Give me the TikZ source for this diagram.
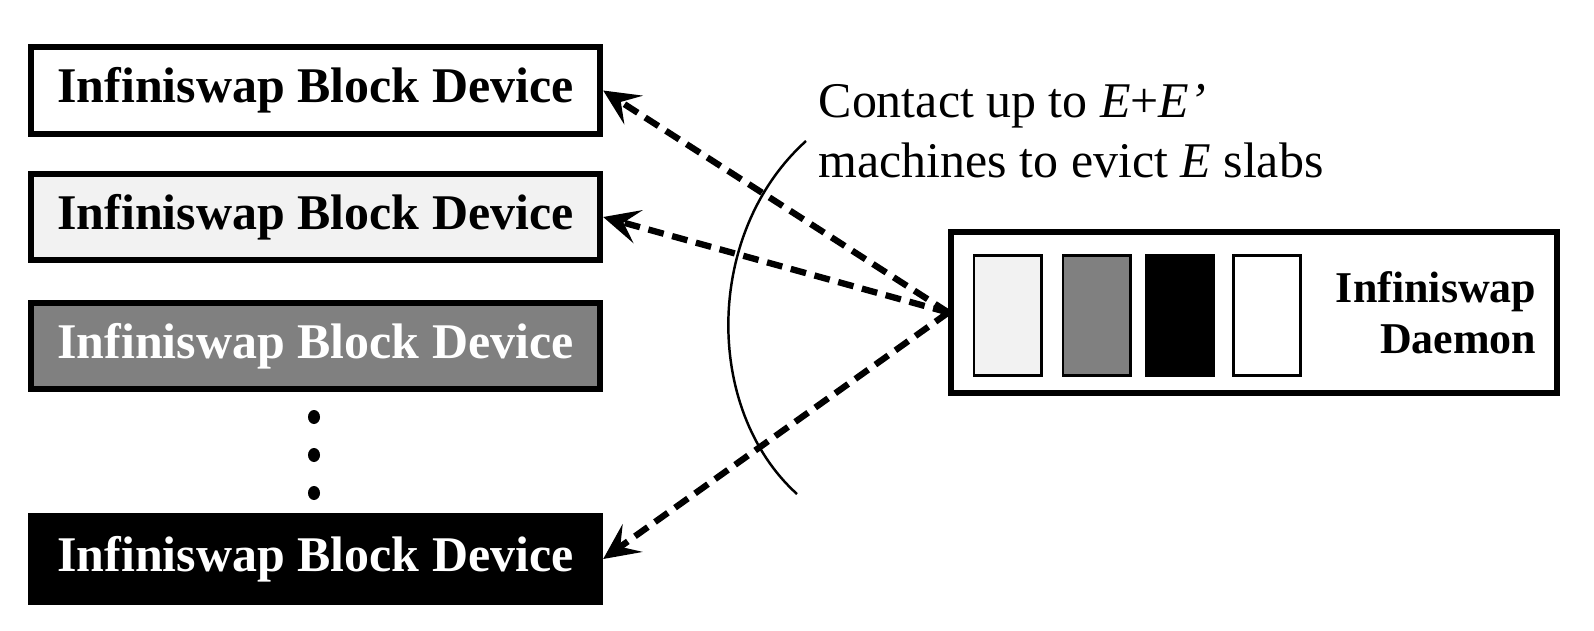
\documentclass[tikz,border=0pt]{standalone}
\usepackage{fontspec}
\setmainfont{Liberation Serif}
\usetikzlibrary{arrows.meta}
\tikzset{
  dev/.style={draw, line width=1.7pt, minimum width=5.69cm, minimum height=0.86cm, inner sep=0pt, font=\fontsize{14.2}{16}\selectfont\bfseries},
  slab/.style={draw, line width=0.85pt, minimum width=0.67cm, minimum height=1.19cm, inner sep=0pt},
  vdot/.style={ellipse, fill, inner sep=0pt, minimum width=0.12cm, minimum height=0.14cm},
  evict/.style={draw, line width=1.8pt, dash pattern=on 4.5pt off 2.5pt, -{Stealth[length=0.36cm, width=0.34cm, inset=0.15cm]}}
}
\usetikzlibrary{shapes.geometric}
\begin{document}
\begin{tikzpicture}[x=0.01cm, y=-0.01cm]
\useasboundingbox (0,0) rectangle (1594,630);
\node[dev] (d1) at (315.5,90.5) {Infiniswap Block Device};
\node[dev, fill=black!5] (d2) at (315.5,217) {Infiniswap Block Device};
\node[dev, fill=black!50, text=white] (d3) at (315.5,346) {Infiniswap Block Device};
\node[dev, fill=black, text=white] (d4) at (315.5,559) {Infiniswap Block Device};

\node[vdot] (p1) at (314,417) {};
\node[vdot] (p2) at (314,455) {};
\node[vdot] (p3) at (314,493) {};

\node[draw, line width=1.7pt, minimum width=6.05cm, minimum height=1.6cm, inner sep=0pt] (daemon) at (1254,312.5) {};
\node[slab, fill=black!5] (s1) at (1007.5,315.5) {};
\node[slab, fill=black!50] (s2) at (1096.5,315.5) {};
\node[slab, fill=black] (s3) at (1180,315.5) {};
\node[slab, fill=white] (s4) at (1267,315.5) {};
\node[anchor=east, align=right, inner sep=0pt, font=\fontsize{12.5}{14.5}\selectfont\bfseries] (dlabel) at (1537,313) {Infiniswap\\Daemon};

\node[anchor=west, align=left, inner sep=0pt, font=\fontsize{14.2}{16.9}\selectfont] (contact) at (818,131) {Contact up to \textit{E}+\textit{E’}\\machines to evict \textit{E} slabs};

\path[evict] (daemon.west) -- (d1.east);
\path[evict] (daemon.west) -- (d2.east);
\path[evict] (daemon.west) -- (d4.east);

\draw[line width=0.7pt] (806,141) .. controls (704,233) and (704,410) .. (797,494);
\end{tikzpicture}
\end{document}
